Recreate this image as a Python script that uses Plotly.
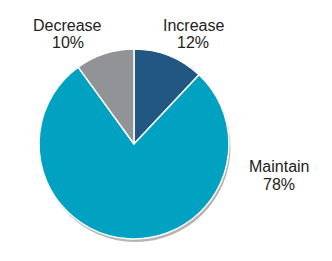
import plotly.graph_objects as go

categories = ["Increase", "Maintain", "Decrease"]
values = [12, 78, 10]
colors = ["#215782", "#00A1C1", "#929397"]

W, H = 332, 261
cx, cy, r = 134, 144, 95

fig = go.Figure(go.Pie(
    labels=categories, values=values, sort=False, direction="clockwise", rotation=0,
    marker=dict(colors=colors, line=dict(color="white", width=1.5)),
    textinfo="none", hoverinfo="label+percent", showlegend=False,
    domain=dict(x=[(cx - r) / W, (cx + r) / W], y=[1 - (cy + r) / H, 1 - (cy - r) / H]),
))

# drop shadow behind pie
sx, sy = 1.5, 3
fig.add_shape(type="circle", xref="paper", yref="paper", layer="below",
              x0=(cx - r + sx) / W, x1=(cx + r + sx) / W,
              y0=1 - (cy + r + sy) / H, y1=1 - (cy - r + sy) / H,
              fillcolor="#b4b4b4", line=dict(width=0))

# (x center, y of first line middle, y of second line middle) in pixels
label_pos = {"Increase": (193, 25, 42), "Maintain": (278.5, 166.5, 184.5), "Decrease": (67.5, 25, 42)}
total = sum(values)
font = dict(family="Liberation Sans, Arial", size=16, color="#222")
for c, v in zip(categories, values):
    px, py1, py2 = label_pos[c]
    for txt, py in ((c, py1), (f"{round(100 * v / total)}%", py2)):
        fig.add_annotation(x=px / W, y=1 - py / H, xref="paper", yref="paper",
                           text=txt, showarrow=False, font=font,
                           xanchor="center", yanchor="middle")

fig.update_layout(width=W, height=H, margin=dict(l=0, r=0, t=0, b=0),
                  paper_bgcolor="white", plot_bgcolor="white")
fig.write_html("out.html")
